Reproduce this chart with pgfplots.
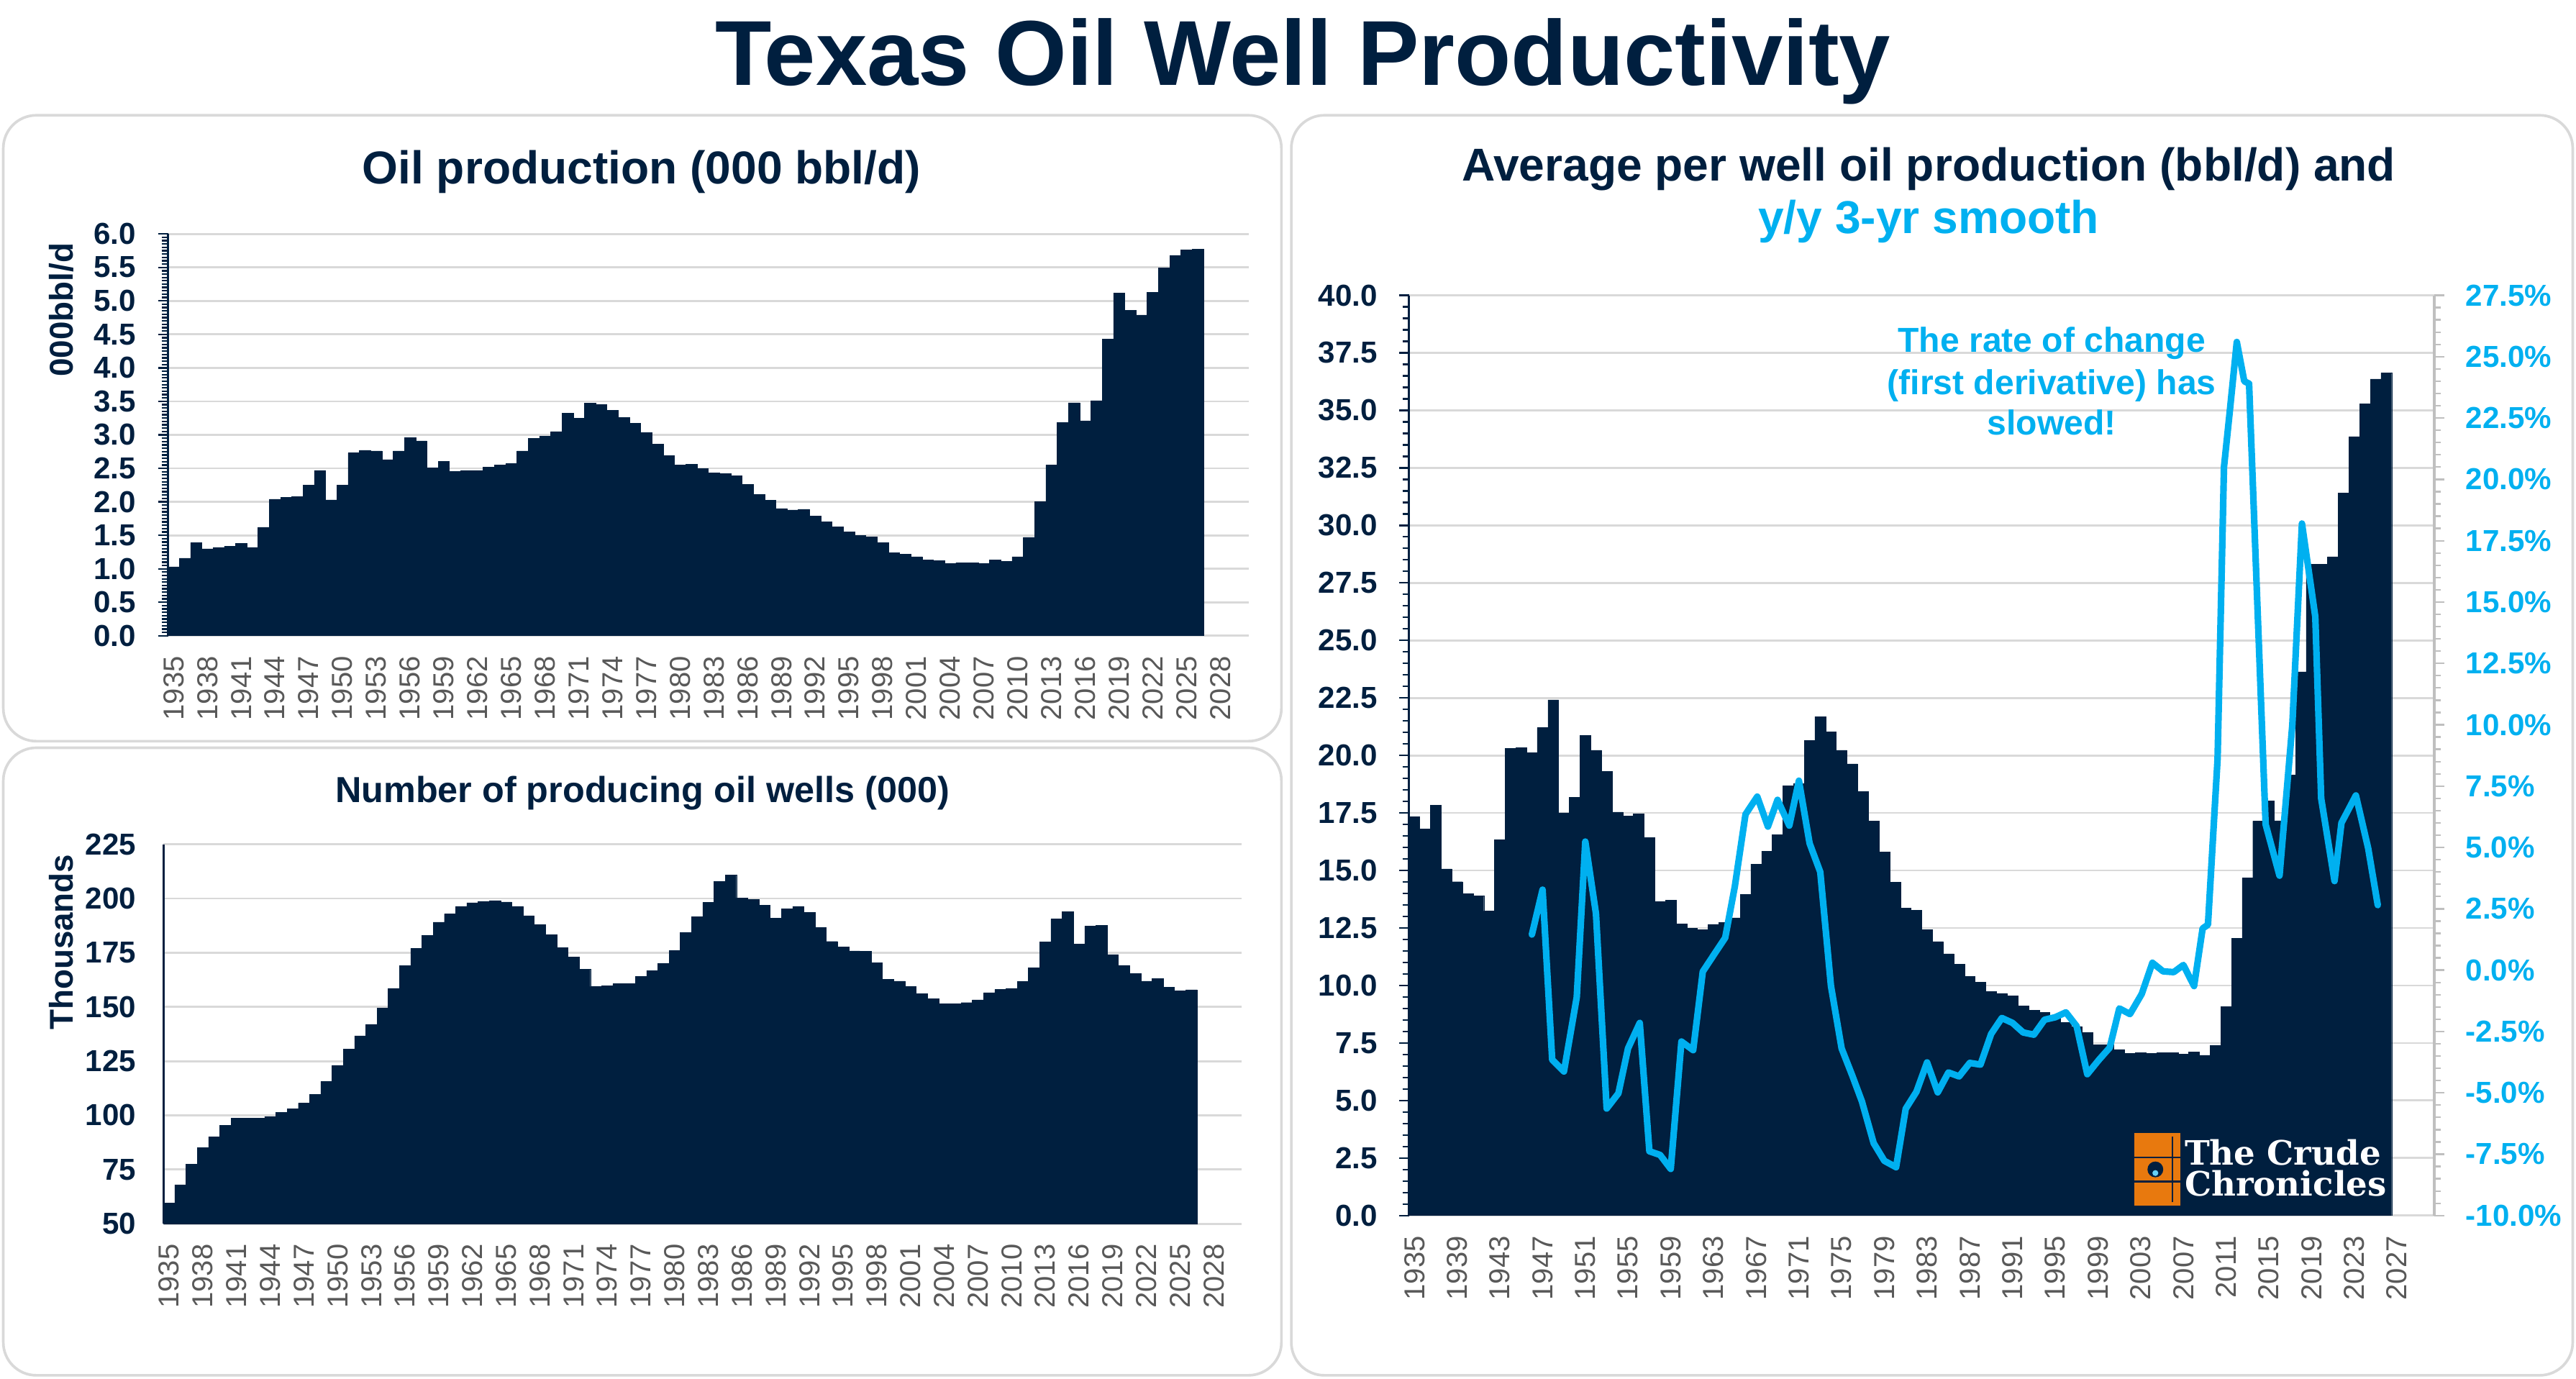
\documentclass[border=0pt]{standalone}
\usepackage{fontspec}
\setmainfont{Liberation Sans}
\newfontfamily\logofont{DejaVu Serif}
\usepackage{pgfplots}
\usepackage{pgfplotstable}
\pgfplotsset{compat=1.18}
\definecolor{navy}{RGB}{0,31,63}
\definecolor{cyanl}{RGB}{0,176,240}
\definecolor{gridgray}{RGB}{217,217,217}
\definecolor{labelgray}{RGB}{89,89,89}
\definecolor{panelgray}{RGB}{217,217,217}
\definecolor{raxis}{RGB}{191,191,191}
\definecolor{barrel}{RGB}{232,121,14}

\pgfplotstableread{
year prod wells pw
1935 1.03 59.5 17.33
1936 1.16 68.0 16.81
1937 1.39 77.4 17.84
1938 1.30 85.0 15.07
1939 1.32 90.2 14.51
1940 1.34 95.3 14.00
1941 1.38 98.7 13.89
1942 1.32 98.7 13.24
1943 1.62 98.7 16.33
1944 2.04 99.5 20.30
1945 2.07 101.3 20.33
1946 2.08 103.0 20.13
1947 2.25 105.7 21.21
1948 2.47 109.6 22.42
1949 2.03 115.6 17.51
1950 2.25 123.1 18.18
1951 2.73 130.5 20.86
1952 2.77 136.7 20.23
1953 2.76 142.0 19.30
1954 2.63 149.4 17.54
1955 2.76 158.6 17.37
1956 2.96 169.0 17.45
1957 2.91 177.0 16.42
1958 2.51 183.0 13.65
1959 2.60 189.1 13.70
1960 2.45 192.9 12.67
1961 2.47 196.4 12.49
1962 2.47 198.1 12.42
1963 2.52 198.7 12.66
1964 2.55 199.1 12.73
1965 2.57 198.4 12.94
1966 2.76 196.4 13.96
1967 2.95 192.1 15.28
1968 2.98 188.0 15.84
1969 3.05 183.2 16.56
1970 3.32 177.4 18.67
1971 3.25 173.0 18.77
1972 3.47 167.4 20.65
1973 3.45 159.4 21.69
1974 3.37 159.8 21.02
1975 3.26 160.7 20.23
1976 3.17 160.7 19.63
1977 3.03 164.1 18.42
1978 2.86 166.8 17.15
1979 2.69 170.1 15.81
1980 2.55 176.0 14.49
1981 2.56 184.3 13.36
1982 2.50 191.5 13.26
1983 2.43 198.2 12.42
1984 2.42 207.9 11.91
1985 2.39 210.8 11.38
1986 2.26 200.3 10.92
1987 2.11 199.6 10.40
1988 2.02 197.0 10.15
1989 1.90 191.0 9.73
1990 1.88 195.2 9.66
1991 1.89 196.4 9.56
1992 1.79 193.5 9.12
1993 1.70 186.7 8.92
1994 1.63 180.2 8.82
1995 1.55 177.7 8.62
1996 1.50 175.8 8.40
1997 1.48 175.6 8.22
1998 1.39 170.4 7.96
1999 1.24 162.8 7.43
2000 1.22 161.9 7.43
2001 1.18 159.4 7.22
2002 1.13 156.2 7.05
2003 1.12 153.7 7.07
2004 1.08 151.5 7.05
2005 1.09 151.5 7.09
2006 1.09 152.0 7.07
2007 1.08 153.3 7.02
2008 1.13 156.6 7.12
2009 1.11 158.0 6.97
2010 1.18 158.6 7.40
2011 1.47 161.7 9.07
2012 2.00 168.1 12.06
2013 2.55 180.0 14.67
2014 3.18 190.5 17.15
2015 3.48 193.9 18.02
2016 3.21 179.1 17.16
2017 3.51 187.3 19.15
2018 4.43 187.6 23.64
2019 5.12 174.2 28.30
2020 4.86 169.2 28.32
2021 4.79 165.5 28.64
2022 5.13 161.9 31.41
2023 5.49 163.1 33.86
2024 5.68 159.1 35.29
2025 5.76 157.5 36.36
2026 5.77 157.9 36.63
}\datatab

\pgfplotstableread{
x pct
1946.0 1.45
1947.0 3.28
1947.9 -3.65
1949.0 -4.13
1950.2 -1.10
1951.0 5.24
1952.0 2.30
1953.0 -5.64
1954.1 -5.02
1955.0 -3.19
1956.1 -2.15
1957.0 -7.38
1958.0 -7.53
1959.0 -8.10
1960.0 -2.91
1961.1 -3.26
1962.0 -0.06
1963.0 0.60
1964.1 1.32
1965.0 3.41
1966.0 6.35
1967.1 7.07
1968.1 5.85
1969.0 6.94
1970.1 5.89
1971.0 7.72
1972.0 5.17
1973.0 4.00
1974.0 -0.64
1975.0 -3.19
1976.0 -4.30
1976.9 -5.35
1978.0 -7.05
1979.0 -7.77
1980.1 -8.03
1981.0 -5.65
1982.0 -4.96
1983.0 -3.76
1984.0 -4.98
1985.0 -4.17
1986.0 -4.33
1987.0 -3.78
1988.0 -3.85
1989.0 -2.60
1990.0 -1.95
1991.0 -2.15
1992.0 -2.54
1993.0 -2.63
1994.0 -2.02
1995.0 -1.92
1996.0 -1.72
1997.0 -2.28
1998.0 -4.24
1999.1 -3.65
2000.1 -3.16
2001.0 -1.56
2002.0 -1.79
2003.1 -0.97
2004.1 0.30
2005.1 -0.05
2006.1 -0.08
2007.0 0.21
2008.0 -0.65
2008.8 1.70
2009.3 1.85
2010.2 8.60
2010.8 20.50
2011.35 22.80
2012.0 25.60
2012.7 24.00
2013.15 23.90
2014.7 5.94
2016.0 3.85
2017.2 10.00
2018.1 18.20
2019.35 14.40
2019.9 7.00
2021.15 3.63
2021.8 6.00
2023.15 7.12
2024.3 4.97
2025.2 2.65
}\linetab

\pgfplotsset{
  basechart/.style={
    scale only axis,
    anchor=south west,
    xmin=1934.5, xmax=2030.5,
    enlargelimits=false,
    ybar, bar width=1, bar shift=0pt,
    axis y line*=left, axis x line*=bottom,
    x axis line style={draw=gridgray, line width=0.6pt, -},
    y axis line style={draw=navy, line width=0.6pt, -},
    ymajorgrids, grid style={draw=gridgray, line width=0.6pt},
    tick align=outside,
    major x tick style={draw=none},
    /pgf/number format/assume math mode=true,
    xticklabel style={rotate=90, anchor=east, inner sep=0pt,
      font=\fontsize{8.75}{10}\selectfont, text=labelgray,
      /pgf/number format/1000 sep={}},
    yticklabel style={inner sep=0pt, font=\bfseries\fontsize{9.2}{10}\selectfont, text=navy},
    ylabel style={font=\bfseries\fontsize{10}{12}\selectfont, text=navy, anchor=center},
  },
}

\begin{document}
\begin{tikzpicture}
\useasboundingbox (0,0) rectangle (782pt,418.5pt);
\fill[white] (0,0) rectangle (782pt,418.5pt);
% panels
\draw[panelgray, line width=0.8pt, rounded corners=10pt] (1pt,193.5pt) rectangle (389pt,383.5pt);
\draw[panelgray, line width=0.8pt, rounded corners=10pt] (1pt,1pt) rectangle (389pt,191.5pt);
\draw[panelgray, line width=0.8pt, rounded corners=10pt] (392pt,1pt) rectangle (781pt,383.5pt);

% main title
\node[anchor=base, inner sep=0, text=navy, font=\bfseries\fontsize{28}{30}\selectfont] at (395.5pt,392.65pt) {Texas Oil Well Productivity};

% panel titles
\node[anchor=base, inner sep=0, text=navy, font=\bfseries\fontsize{14}{16}\selectfont] at (194.75pt,362.8pt) {Oil production (000 bbl/d)};
\node[anchor=base, inner sep=0, text=navy, font=\bfseries\fontsize{11}{13}\selectfont] at (195pt,175pt) {Number of producing oil wells (000)};
\node[anchor=base, inner sep=0, text=navy, font=\bfseries\fontsize{14}{16}\selectfont] at (585.5pt,363.55pt) {Average per well oil production (bbl/d) and};
\node[anchor=base, inner sep=0, text=cyanl, font=\bfseries\fontsize{14}{16}\selectfont] at (585.5pt,347.55pt) {y/y 3-yr smooth};

% top-left: oil production
\begin{axis}[basechart, at={(51pt,225.5pt)}, width=328pt, height=122pt,
  ymin=0, ymax=6, ytick={0,0.5,...,6},
  yticklabel style={/pgf/number format/fixed, /pgf/number format/fixed zerofill, /pgf/number format/precision=1},
  xtick={1935,1938,...,2028},
  minor y tick num=9,
  major tick length=2.9pt, minor tick length=1.9pt,
  y tick style={draw=navy, line width=0.5pt},
  yticklabel shift=6.6pt, xticklabel shift=3.1pt,
  ylabel={000bbl/d},
  ylabel style={at={(axis description cs:-0.0986,0.811)}},
]
\addplot[fill=navy, draw=navy, line width=0.1pt] table[x=year, y=prod] {\datatab};
\end{axis}

% bottom-left: wells
\begin{axis}[basechart, at={(49.65pt,47pt)}, width=327.35pt, height=115.2pt,
  ymin=50, ymax=225, ytick={50,75,...,225},
  xtick={1935,1938,...,2028},
  major tick length=0pt, y tick style={draw=none},
  yticklabel shift=8.15pt, xticklabel shift=6pt,
  ylabel={Thousands},
  ylabel style={at={(axis description cs:-0.095,0.742)}},
]
\addplot[fill=navy, draw=navy, line width=0.1pt] table[x=year, y=wells] {\datatab};
\end{axis}

% right: per-well production
\begin{axis}[basechart, at={(427.75pt,49.5pt)}, width=311.25pt, height=279.35pt,
  ymin=0, ymax=40, ytick={0,2.5,...,40},
  yticklabel style={/pgf/number format/fixed, /pgf/number format/fixed zerofill, /pgf/number format/precision=1},
  xtick={1935,1939,...,2027},
  minor y tick num=4,
  major tick length=3pt, minor tick length=2pt,
  y tick style={draw=navy, line width=0.5pt},
  yticklabel shift=6.4pt, xticklabel shift=3pt,
]
\addplot[fill=navy, draw=navy, line width=0.1pt] table[x=year, y=pw] {\datatab};
\end{axis}

\begin{axis}[scale only axis, anchor=south west, at={(427.75pt,49.5pt)}, width=311.25pt, height=279.35pt,
  xmin=1934.5, xmax=2030.5, enlargelimits=false,
  ymin=-10, ymax=27.5, ytick={-10,-7.5,...,27.5},
  axis x line=none, axis y line*=right,
  y axis line style={draw=raxis, line width=0.8pt, -},
  tick align=outside, major tick length=3pt, minor tick length=2pt,
  minor y tick num=4,
  y tick style={draw=raxis, line width=0.5pt},
  /pgf/number format/assume math mode=true,
  yticklabel={\pgfmathprintnumber[fixed,fixed zerofill,precision=1]{\tick}\%},
  yticklabel style={inner sep=0pt, font=\bfseries\fontsize{9.2}{10}\selectfont, text=cyanl},
  yticklabel shift=6.3pt,
]
\addplot[cyanl, line width=2pt, line join=round, line cap=round, mark=none] table[x=x, y=pct] {\linetab};
\end{axis}

% annotation
\node[anchor=base, inner sep=0, text=cyanl, font=\bfseries\fontsize{10.5}{12}\selectfont] at (622.85pt,311.6pt) {The rate of change};
\node[anchor=base, inner sep=0, text=cyanl, font=\bfseries\fontsize{10.5}{12}\selectfont] at (622.85pt,298.75pt) {(first derivative) has};
\node[anchor=base, inner sep=0, text=cyanl, font=\bfseries\fontsize{10.5}{12}\selectfont] at (622.85pt,286.5pt) {slowed!};

% logo
\fill[barrel] (648pt,52.5pt) rectangle (661.8pt,74.5pt);
\draw[navy, line width=0.5pt] (648pt,59.8pt) -- (661.8pt,59.8pt);
\draw[navy, line width=0.5pt] (648pt,67.2pt) -- (661.8pt,67.2pt);
\draw[navy, line width=0.6pt] (659.5pt,53.5pt) -- (659.5pt,73.5pt);
\fill[navy] (654.3pt,63.5pt) circle (2.4pt);
\fill[cyanl!60!white] (654.3pt,62.4pt) circle (0.9pt);
\node[anchor=base west, inner sep=0, text=white, font=\logofont\bfseries\fontsize{10.2}{12}\selectfont] at (663pt,64.8pt) {The Crude};
\node[anchor=base west, inner sep=0, text=white, font=\logofont\bfseries\fontsize{10.2}{12}\selectfont] at (663pt,55.5pt) {Chronicles};
\end{tikzpicture}
\end{document}
